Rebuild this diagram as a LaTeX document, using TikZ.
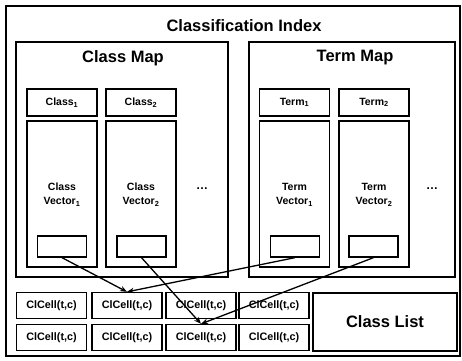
\documentclass[tikz,border=0pt]{standalone}
\usepackage{fontspec}
\setmainfont{Liberation Sans}
\usepackage{tikz}
\usetikzlibrary{
  arrows.meta,
  positioning
}

\begin{document}
\begin{tikzpicture}[
  x=1pt, y=-1pt,
  frame/.style={
    draw, line width=1.3pt, inner sep=0pt
  },
  keybox/.style={
    frame, minimum width=70pt, minimum height=27pt,
    font=\bfseries\fontsize{10.5}{12}\selectfont
  },
  vecbox/.style={
    frame, minimum width=70pt, minimum height=146pt
  },
  slot/.style={
    frame, minimum width=49pt, minimum height=21pt
  },
  cellbox/.style={
    frame, minimum width=70pt, minimum height=26pt,
    font=\bfseries\fontsize{10.8}{12}\selectfont
  },
  veclabel/.style={
    align=center, font=\bfseries\fontsize{10.5}{14}\selectfont
  },
  heading/.style={
    font=\bfseries\fontsize{16.5}{18}\selectfont
  },
  link/.style={
    line width=1.3pt, -{Stealth[length=7pt, width=5.5pt]}
  }
]
  \useasboundingbox (0,0) rectangle (462,360);

  \node[frame, minimum width=454pt, minimum height=350pt] (index) at (233,181) {};
  \node[heading] (indextitle) at (244,26) {Classification Index};

  \node[frame, minimum width=212pt, minimum height=235pt] (classmap) at (122,159.5) {};
  \node[heading] (classmaptitle) at (123,58) {Class Map};
  \node[frame, minimum width=206pt, minimum height=235pt] (termmap) at (352,159.5) {};
  \node[heading] (termmaptitle) at (355,58) {Term Map};

  \node[keybox] (class1) at (62,102.5) {Class\textsubscript{1}};
  \node[keybox] (class2) at (141,102.5) {Class\textsubscript{2}};
  \node[keybox] (term1) at (294.5,102.5) {Term\textsubscript{1}};
  \node[keybox] (term2) at (374,102.5) {Term\textsubscript{2}};

  \node[vecbox] (classvec1) at (62,194) {};
  \node[vecbox] (classvec2) at (141,194) {};
  \node[vecbox] (termvec1) at (294.5,194) {};
  \node[vecbox] (termvec2) at (374,194) {};
  \node[veclabel] at (62,195) {Class\\Vector\textsubscript{1}};
  \node[veclabel] at (141,195) {Class\\Vector\textsubscript{2}};
  \node[veclabel] at (294.5,195) {Term\\Vector\textsubscript{1}};
  \node[veclabel] at (374,195) {Term\\Vector\textsubscript{2}};
  \node[font=\bfseries\large] (classdots) at (202,189) {\dots};
  \node[font=\bfseries\large] (termdots) at (432,189) {\dots};

  \node[slot] (classslot1) at (62,246.5) {};
  \node[slot] (classslot2) at (141.5,246.5) {};
  \node[slot] (termslot1) at (295,246.5) {};
  \node[slot] (termslot2) at (373.5,246.5) {};

  \node[cellbox] (cell11) at (51.5,305.5) {ClCell(t,c)};
  \node[cellbox] (cell12) at (127,305.5) {ClCell(t,c)};
  \node[cellbox] (cell13) at (201,305.5) {ClCell(t,c)};
  \node[cellbox] (cell14) at (274,305.5) {ClCell(t,c)};
  \node[cellbox] (cell21) at (51.5,337.5) {ClCell(t,c)};
  \node[cellbox] (cell22) at (127,337.5) {ClCell(t,c)};
  \node[cellbox] (cell23) at (201,337.5) {ClCell(t,c)};
  \node[cellbox] (cell24) at (274,337.5) {ClCell(t,c)};
  \node[frame, minimum width=144pt, minimum height=58pt, heading] (classlist) at (385,322) {Class List};

  \draw[link] (classslot1.south) -- (cell12.north);
  \draw[link] (termslot1.south) -- (cell12.north);
  \draw[link] (classslot2.south) -- (cell23.north);
  \draw[link] (termslot2.south) -- (cell23.north);
\end{tikzpicture}
\end{document}
